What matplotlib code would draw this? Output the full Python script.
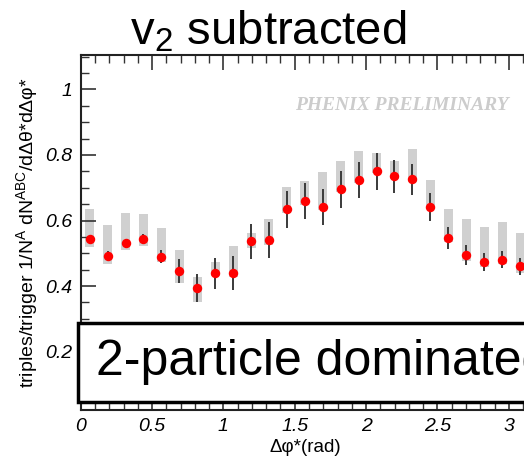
import matplotlib
matplotlib.use("Agg")
import matplotlib.pyplot as plt
from matplotlib.patches import Rectangle
from matplotlib.ticker import MultipleLocator, FixedLocator, FuncFormatter

plt.rcParams['font.family'] = ['Liberation Sans', 'DejaVu Sans']
plt.rcParams['mathtext.fontset'] = 'custom'
plt.rcParams['mathtext.rm'] = 'Liberation Sans'
plt.rcParams['mathtext.it'] = 'Liberation Sans:italic'

# ---- data ----
dphi = [0.063, 0.188, 0.314, 0.440, 0.565, 0.691, 0.817, 0.942, 1.068, 1.194,
        1.319, 1.445, 1.571, 1.696, 1.822, 1.948, 2.073, 2.199, 2.325, 2.450,
        2.576, 2.702, 2.827, 2.953, 3.079]
yield_ = [0.543, 0.493, 0.530, 0.544, 0.490, 0.446, 0.395, 0.439, 0.440, 0.537,
          0.541, 0.634, 0.660, 0.641, 0.695, 0.723, 0.750, 0.735, 0.726, 0.642,
          0.546, 0.495, 0.473, 0.480, 0.460]
stat_err = [0.010, 0.013, 0.013, 0.015, 0.020, 0.036, 0.043, 0.048, 0.052, 0.053,
            0.056, 0.057, 0.056, 0.056, 0.056, 0.055, 0.056, 0.050, 0.047, 0.042,
            0.034, 0.030, 0.028, 0.026, 0.025]
sys_lo = [0.520, 0.466, 0.510, 0.522, 0.474, 0.409, 0.352, 0.430, 0.427, 0.515,
          0.525, 0.622, 0.647, 0.632, 0.686, 0.713, 0.744, 0.726, 0.718, 0.634,
          0.535, 0.477, 0.457, 0.467, 0.441]
sys_hi = [0.636, 0.585, 0.624, 0.620, 0.577, 0.509, 0.429, 0.472, 0.522, 0.563,
          0.605, 0.701, 0.721, 0.748, 0.781, 0.813, 0.807, 0.782, 0.818, 0.724,
          0.635, 0.605, 0.579, 0.595, 0.563]
xticks = [0, 0.5, 1, 1.5, 2, 2.5, 3]
yticks = [0.2, 0.4, 0.6, 0.8, 1.0]
ytick_labels = ["0.2", "0.4", "0.6", "0.8", "1"]

W, H = 524, 457
fig = plt.figure(figsize=(W / 100, H / 100), dpi=100)

def fx(px):
    return px / W

def fy(py):
    return 1 - py / H

ax = fig.add_axes([fx(80.7), fy(410), fx(529) - fx(80.7), fy(55) - fy(410)])
ax.set_xlim(0, 3.1416)
ax.set_ylim(0.022, 1.105)

heights = [h - l for h, l in zip(sys_hi, sys_lo)]
ax.bar(dphi, heights, bottom=sys_lo, width=0.062, color='#d0d0d0', edgecolor='none', zorder=1)
ax.errorbar(dphi, yield_, yerr=stat_err, fmt='none', ecolor='#3a3a3a', elinewidth=1.4,
            capsize=0, zorder=2)
ax.plot(dphi, yield_, 'o', color='#ff0000', markersize=6.8, markeredgewidth=0, zorder=3)

ax.xaxis.set_major_locator(FixedLocator(xticks))
ax.xaxis.set_minor_locator(MultipleLocator(0.1))
ax.yaxis.set_major_locator(FixedLocator(yticks))
ax.yaxis.set_minor_locator(MultipleLocator(0.05))
ax.set_yticklabels(ytick_labels)
ax.xaxis.set_major_formatter(FuncFormatter(lambda v, p: f"{v:g}"))
ax.tick_params(which='both', direction='in', top=True, right=False, colors='#333333')
ax.tick_params(which='major', length=11, width=1.2, labelsize=14, labelcolor='black', pad=6)
ax.tick_params(which='minor', length=6, width=1.0)
for lab in ax.get_xticklabels() + ax.get_yticklabels():
    lab.set_fontstyle('italic')
for s in ax.spines.values():
    s.set_linewidth(1.5)
    s.set_color('#222222')
ax.spines['right'].set_visible(False)

ax.set_xlabel("Δφ*(rad)", fontsize=13.5, labelpad=3)
ax.set_ylabel(r"triples/trigger 1/N$^{\mathregular{A}}$ dN$^{\mathregular{ABC}}$/dΔθ*dΔφ*",
              fontsize=14, labelpad=4)

ax.text(0.955, 0.859, "PHENIX PRELIMINARY", transform=ax.transAxes, ha='right', va='center',
        fontsize=14, fontfamily='Liberation Serif', fontweight='bold', fontstyle='italic',
        color='#cccccc')

# title
fig.text(fx(268), fy(32), r"v$_{\mathregular{2}}$ subtracted", fontsize=34, ha='center', va='center')

# overlay box
rect = Rectangle((fx(78.3), fy(401.7)), fx(560) - fx(78.3), fy(323.3) - fy(401.7),
                 transform=fig.transFigure, facecolor='white', edgecolor='black',
                 linewidth=2.5, zorder=10)
fig.patches.append(rect)
fig.text(fx(96), fy(362), "2-particle dominated", fontsize=36, ha='left', va='center', zorder=11)

fig.savefig("out.png", dpi=100)
